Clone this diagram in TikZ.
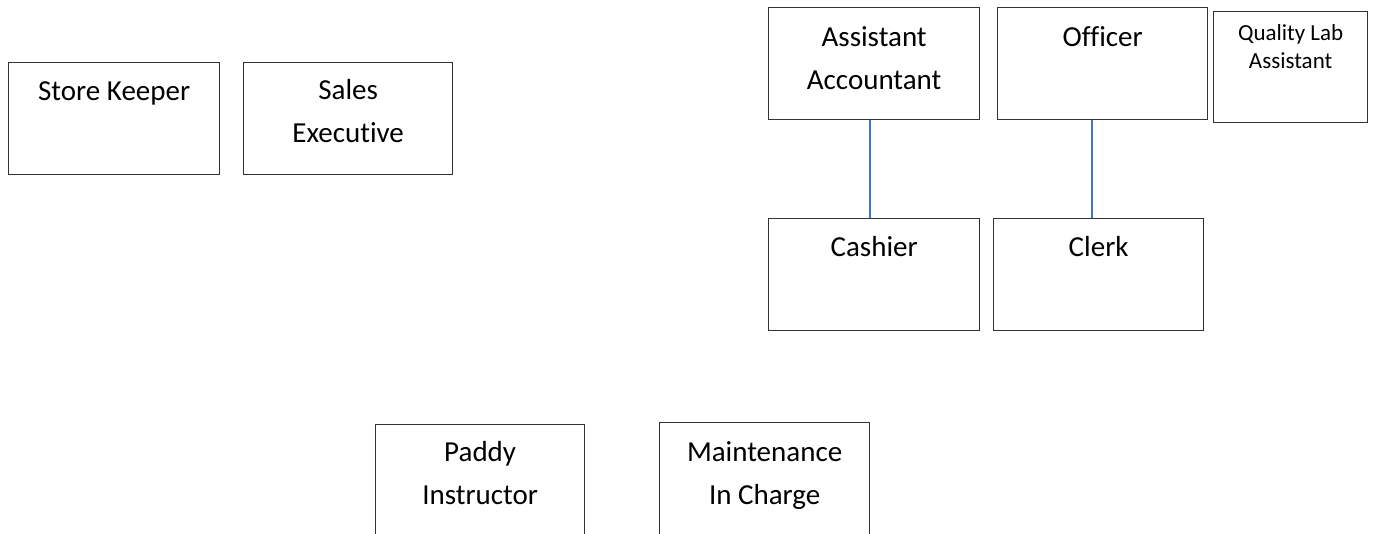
\documentclass[tikz,border=0pt]{standalone}
\usepackage{fontspec}
\setmainfont{Carlito}[Ligatures={NoCommon}]
\newcommand\mainf{\fontsize{29}{43}\selectfont}
\newcommand\smallf{\fontsize{23}{28}\selectfont}
\definecolor{linkblue}{RGB}{68,114,196}
\tikzset{
  orgbox/.style={draw=black!80, line width=1.3pt, inner sep=0pt, anchor=north west,
    align=center, font=\mainf},
  link/.style={draw=linkblue, line width=2pt}
}
% #2 name, #3 x, #4 y(top), #5 width, #6 height, #7 offset of last baseline from top, #8 text
\newcommand\orgbx[8][]{%
  \node[orgbox, #1, minimum width=#5pt, text height=#7pt, text depth=#6pt-#7pt] (#2) at (#3,#4) {#8};%
}
\begin{document}
\begin{tikzpicture}[x=1pt,y=-1pt]
\useasboundingbox (0,0) rectangle (1374,533);
\clip (0,0) rectangle (1374,533);
\fill[white] (0,0) rectangle (1374,533);
\orgbx{sk}{8}{62}{211}{112}{38}{Store Keeper}
\orgbx{se}{243}{62}{209}{112}{80}{Sales\\Executive}
\orgbx{aa}{768}{7}{211}{112}{82}{Assistant\\Accountant}
\orgbx{of}{997}{7}{210}{112}{39}{Officer}
\orgbx[font=\smallf]{ql}{1213}{11}{154}{111}{57}{Quality Lab\\Assistant}
\orgbx{ca}{768}{218}{211}{112}{38}{Cashier}
\orgbx{cl}{993}{218}{210}{112}{38}{Clerk}
\orgbx{pi}{375}{424}{209}{140}{80}{Paddy\\Instructor}
\orgbx{mc}{659}{422}{210}{140}{82}{Maintenance\\In Charge}
\draw[link] ([xshift=-4.5pt]aa.south) -- ([xshift=-4.5pt]ca.north);
\draw[link] ([xshift=-11pt]of.south) -- ([xshift=-7pt]cl.north);
\end{tikzpicture}
\end{document}
